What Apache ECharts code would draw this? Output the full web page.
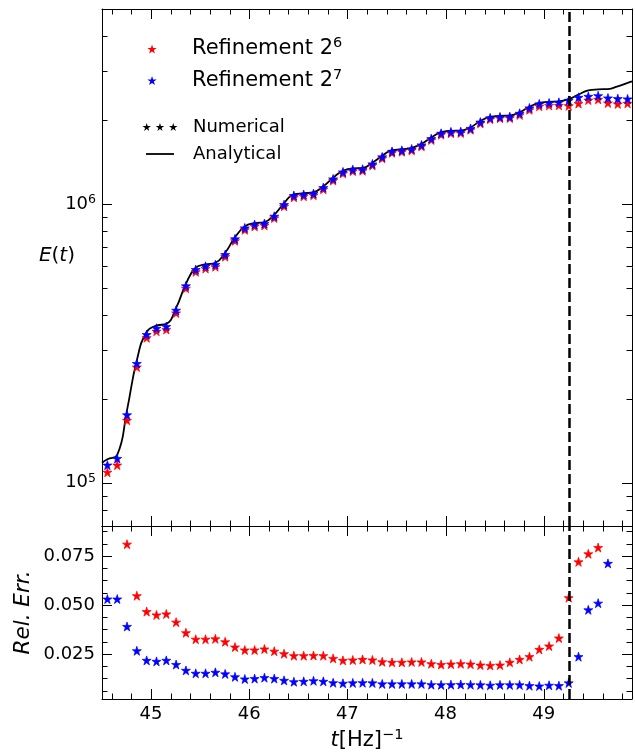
<!DOCTYPE html>
<html>
<head>
<meta charset="utf-8">
<script src="https://cdn.jsdelivr.net/npm/echarts@6/dist/echarts.min.js"></script>
<style>
html,body{margin:0;padding:0;background:#fff;}
#chart{width:635px;height:752px;}
</style>
</head>
<body>
<div id="chart"></div>
<script>
// ---------------- DATA ----------------
const tPts = [44.555,44.655,44.755,44.855,44.955,45.055,45.155,45.255,45.355,45.455,
  45.555,45.655,45.755,45.855,45.955,46.055,46.155,46.255,46.355,46.455,
  46.555,46.655,46.755,46.855,46.955,47.055,47.155,47.255,47.355,47.455,
  47.555,47.655,47.755,47.855,47.955,48.055,48.155,48.255,48.355,48.455,
  48.555,48.655,48.755,48.855,48.955,49.055,49.155,49.255,49.355,49.455,
  49.555,49.655,49.755,49.855];

// E(t), refinement 2^7 (blue)
const eRef7 = [1.157e5,1.222e5,1.752e5,2.677e5,3.400e5,3.583e5,3.634e5,4.155e5,5.083e5,5.814e5,
  5.974e5,6.058e5,6.58e5,7.49e5,8.20e5,8.43e5,8.50e5,9.03e5,9.94e5,1.071e6,
  1.080e6,1.089e6,1.144e6,1.229e6,1.302e6,1.327e6,1.332e6,1.391e6,1.474e6,1.543e6,
  1.556e6,1.574e6,1.627e6,1.714e6,1.791e6,1.812e6,1.816e6,1.865e6,1.965e6,2.034e6,
  2.050e6,2.056e6,2.113e6,2.209e6,2.283e6,2.301e6,2.313e6,2.351e6,2.410e6,2.430e6,
  2.444e6,2.398e6,2.385e6,2.379e6];

// E(t), refinement 2^6 (red)
const eRef6 = [1.091e5,1.157e5,1.675e5,2.600e5,3.313e5,3.497e5,3.546e5,4.063e5,4.984e5,5.711e5,
  5.869e5,5.953e5,6.471e5,7.375e5,8.077e5,8.306e5,8.374e5,8.902e5,9.804e5,1.0566e6,
  1.0657e6,1.0747e6,1.1288e6,1.2136e6,1.2867e6,1.3113e6,1.316e6,1.3745e6,1.4571e6,1.5258e6,
  1.5387e6,1.5562e6,1.6086e6,1.6955e6,1.7722e6,1.7928e6,1.7963e6,1.8452e6,1.9449e6,2.0133e6,
  2.0291e6,2.032e6,2.0853e6,2.176e6,2.2399e6,2.2546e6,2.2563e6,2.2476e6,2.2906e6,2.3571e6,
  2.3708e6,2.301e6,2.283e6,2.294e6];

// Analytical curve
const tLine = [44.5,44.555,44.655,44.755,44.855,44.955,45.055,45.155,45.255,45.355,45.455,
  45.555,45.655,45.755,45.855,45.955,46.055,46.155,46.255,46.355,46.455,
  46.555,46.655,46.755,46.855,46.955,47.055,47.155,47.255,47.355,47.455,
  47.555,47.655,47.755,47.855,47.955,48.055,48.155,48.255,48.355,48.455,
  48.555,48.655,48.755,48.855,48.955,49.055,49.155,49.255,49.355,49.455,
  49.555,49.655,49.755,49.855,49.9];
const eAnalytical = [1.18e5,1.215e5,1.26e5,1.823e5,2.750e5,3.475e5,3.661e5,3.715e5,4.238e5,5.169e5,5.903e5,
  6.066e5,6.154e5,6.679e5,7.591e5,8.301e5,8.536e5,8.611e5,9.143e5,1.0056e6,1.0827e6,
  1.092e6,1.1014e6,1.1567e6,1.2418e6,1.3152e6,1.3407e6,1.3459e6,1.4053e6,1.4884e6,1.5581e6,
  1.5712e6,1.5894e6,1.6429e6,1.7301e6,1.8076e6,1.829e6,1.833e6,1.8825e6,1.9832e6,2.0525e6,
  2.069e6,2.075e6,2.1326e6,2.2286e6,2.3028e6,2.3219e6,2.3335e6,2.3752e6,2.4683e6,2.5512e6,
  2.575e6,2.582e6,2.64e6,2.715e6,2.75e6];

// Relative errors (null = outside plotted range)
const errRef7 = [0.053,0.053,0.039,0.0266,0.0217,0.0212,0.0217,0.0196,0.0166,0.0151,
  0.0151,0.0156,0.0148,0.0133,0.0122,0.0124,0.0129,0.0124,0.0115,0.0108,
  0.0110,0.0113,0.0110,0.0103,0.0100,0.0102,0.0103,0.0102,0.0097,0.0097,
  0.0097,0.0097,0.0097,0.0093,0.0092,0.0093,0.0094,0.0093,0.0092,0.0090,
  0.0092,0.0092,0.0092,0.0088,0.0086,0.0090,0.0088,0.0102,0.0236,0.0475,
  0.0509,0.0712,null,null];
const errRef6 = [null,null,0.081,0.0547,0.0466,0.0449,0.0454,0.0412,0.0358,0.0325,
  0.0325,0.0327,0.0312,0.0285,0.0270,0.0270,0.0275,0.0264,0.0251,0.0241,
  0.0241,0.0242,0.0241,0.0227,0.0217,0.0219,0.0222,0.0219,0.0210,0.0207,
  0.0207,0.0209,0.0209,0.0200,0.0196,0.0198,0.0200,0.0198,0.0193,0.0191,
  0.0193,0.0207,0.0222,0.0236,0.0273,0.0290,0.0331,0.0537,0.0720,0.0761,
  0.0793,null,null,null];

const tDashed = 49.255;

// Tick values
const xMajorTicks = [45,46,47,48,49];
const xMinorTicks = [44.6,44.8,45.2,45.4,45.6,45.8,46.2,46.4,46.6,46.8,47.2,47.4,47.6,47.8,
  48.2,48.4,48.6,48.8,49.2,49.4,49.6,49.8];
const eMajorTicks = [1e5,1e6];
const eMinorTicks = [8e4,9e4,2e5,3e5,4e5,5e5,6e5,7e5,8e5,9e5,2e6,3e6,4e6];
const errMajorTicks = [0.025,0.05,0.075];
const errMinorTicks = [0.00625,0.0125,0.01875,0.03125,0.0375,0.04375,0.05625,0.0625,0.06875,0.08125,0.0875];

const nameRef6 = 'Refinement 2^6';
const nameRef7 = 'Refinement 2^7';

// ---------------- HELPERS ----------------
function starPts(cx, cy, R, r) {
  let s = '';
  for (let i = 0; i < 10; i++) {
    const a = -Math.PI / 2 + i * Math.PI / 5;
    const rad = (i % 2) ? r : R;
    s += (i ? 'L' : 'M') + (cx + rad * Math.cos(a)).toFixed(2) + ',' + (cy + rad * Math.sin(a)).toFixed(2);
  }
  return s + 'Z';
}
const STAR = 'path://' + starPts(0, 0, 10, 3.82);
const STARS3 = 'path://' + starPts(0, 0, 10, 3.82) + starPts(30, 0, 10, 3.82) + starPts(60, 0, 10, 3.82);

function zip(xs, ys) {
  const out = [];
  for (let i = 0; i < xs.length; i++) if (ys[i] !== null && ys[i] !== undefined) out.push([xs[i], ys[i]]);
  return out;
}

function tickData(xRef, yRef, xMaj, xMin, yMaj, yMin) {
  const d = [];
  xMaj.forEach(v => d.push([v, yRef, 0]));
  xMin.forEach(v => d.push([v, yRef, 1]));
  yMaj.forEach(v => d.push([xRef, v, 2]));
  yMin.forEach(v => d.push([xRef, v, 3]));
  return d;
}

const MAJ = 10, MIN = 5.5;
function tickRender(params, api) {
  const cs = params.coordSys;
  const kind = api.value(2);
  const p = api.coord([api.value(0), api.value(1)]);
  const len = (kind === 0 || kind === 2) ? MAJ : MIN;
  const st = { stroke: '#000', lineWidth: 1 };
  let l1, l2;
  if (kind < 2) {
    const x = Math.round(p[0]) + 0.5;
    l1 = { x1: x, y1: cs.y + cs.height, x2: x, y2: cs.y + cs.height - len };
    l2 = { x1: x, y1: cs.y, x2: x, y2: cs.y + len };
  } else {
    const y = Math.round(p[1]) + 0.5;
    l1 = { x1: cs.x, y1: y, x2: cs.x + len, y2: y };
    l2 = { x1: cs.x + cs.width, y1: y, x2: cs.x + cs.width - len, y2: y };
  }
  return { type: 'group', children: [
    { type: 'line', shape: l1, style: st },
    { type: 'line', shape: l2, style: st }
  ] };
}

const FONT = 'DejaVu Sans';
const RED = '#ff0000', BLUE = '#0000ff';
const axisLineStyle = { show: true, onZero: false, lineStyle: { color: '#000', width: 1 } };

function plainAxis(extra) {
  return Object.assign({
    axisLine: axisLineStyle,
    axisTick: { show: false },
    axisLabel: { show: false },
    splitLine: { show: false },
    minorTick: { show: false },
    minorSplitLine: { show: false }
  }, extra);
}

const dashedMark = {
  silent: true,
  symbol: ['none', 'none'],
  label: { show: false },
  lineStyle: { color: '#000', width: 2.5, type: [10, 4] },
  data: [{ xAxis: tDashed }]
};

function starStyle(c) {
  return { color: c, opacity: 1, borderColor: c, borderWidth: 0.7, borderJoin: 'miter' };
}

const chart = echarts.init(document.getElementById('chart'), null, { renderer: 'canvas' });

const option = {
  animation: false,
  backgroundColor: '#fff',
  textStyle: { fontFamily: FONT, color: '#000' },
  grid: [
    { left: 102, right: 3, top: 9, height: 517, containLabel: false, outerBoundsMode: 'none' },
    { left: 102, right: 3, top: 526, height: 173, containLabel: false, outerBoundsMode: 'none' }
  ],
  xAxis: [
    plainAxis({ gridIndex: 0, type: 'value', min: 44.5, max: 49.9, position: 'bottom' }),
    plainAxis({ gridIndex: 0, type: 'value', min: 44.5, max: 49.9, position: 'top' }),
    plainAxis({
      gridIndex: 1, type: 'value', min: 44.5, max: 49.9, position: 'bottom',
      minInterval: 1, maxInterval: 1,
      axisLabel: {
        show: true, margin: 6, fontSize: 18, color: '#000', fontFamily: FONT,
        showMinLabel: false, showMaxLabel: false,
        formatter: v => (Math.abs(v - Math.round(v)) < 1e-9 ? String(Math.round(v)) : '')
      },
      name: '{i|t}{n|[Hz]}{s|\u22121}',
      nameLocation: 'middle', nameGap: 29, nameMoveOverlap: false,
      nameTextStyle: { fontSize: 21, color: '#000', fontFamily: FONT,
        rich: {
          i: { fontStyle: 'italic', fontSize: 21, lineHeight: 25, fontFamily: FONT },
          n: { fontSize: 21, lineHeight: 25, fontFamily: FONT },
          s: { fontSize: 14.5, lineHeight: 15, verticalAlign: 'top', fontFamily: FONT }
        } }
    }),
    plainAxis({ gridIndex: 1, type: 'value', min: 44.5, max: 49.9, position: 'top' })
  ],
  yAxis: [
    plainAxis({
      gridIndex: 0, type: 'log', logBase: 10, min: 7e4, max: 5e6, position: 'left',
      axisLabel: {
        show: true, margin: 6, color: '#000', fontFamily: FONT,
        showMinLabel: false, showMaxLabel: false,
        formatter: v => {
          const l = Math.log10(v);
          const r = Math.round(l);
          return Math.abs(l - r) < 1e-6 ? '{b|10}{s|' + r + '}' : '';
        },
        rich: {
          b: { fontSize: 18, lineHeight: 22, fontFamily: FONT },
          s: { fontSize: 12.5, lineHeight: 12, verticalAlign: 'top', fontFamily: FONT }
        }
      },
      name: '{i|E}{n|(}{i|t}{n|)}',
      nameLocation: 'middle', nameRotate: 0, nameGap: 27, nameMoveOverlap: false,
      nameTextStyle: { fontSize: 20, color: '#000', fontFamily: FONT, padding: [0, 0, 23, 0],
        rich: {
          i: { fontStyle: 'italic', fontSize: 20, fontFamily: FONT },
          n: { fontSize: 20, fontFamily: FONT }
        } }
    }),
    plainAxis({ gridIndex: 0, type: 'log', logBase: 10, min: 7e4, max: 5e6, position: 'right' }),
    plainAxis({
      gridIndex: 1, type: 'value', min: 0.002, max: 0.0903, position: 'left',
      minInterval: 0.025, maxInterval: 0.025,
      axisLabel: {
        show: true, margin: 7, fontSize: 18, color: '#000', fontFamily: FONT,
        showMinLabel: false, showMaxLabel: false,
        formatter: v => {
          const r = Math.round(v / 0.025);
          return (r > 0 && Math.abs(v - r * 0.025) < 1e-9) ? v.toFixed(3) : '';
        }
      },
      name: 'Rel. Err.',
      nameLocation: 'middle', nameGap: 68, nameMoveOverlap: false,
      nameTextStyle: { fontSize: 21.5, fontStyle: 'italic', color: '#000', fontFamily: FONT }
    }),
    plainAxis({ gridIndex: 1, type: 'value', min: 0.002, max: 0.0903, position: 'right' })
  ],
  legend: [
    {
      data: [{ name: nameRef6, icon: STAR }, { name: nameRef7, icon: STAR }],
      orient: 'vertical', left: 147.3, top: 36, padding: 0,
      itemWidth: 70, itemHeight: 9, itemGap: 8, selectedMode: false,
      itemStyle: { borderWidth: 0 },
      formatter: n => '{t|' + n.split('^')[0] + '}{s|' + n.split('^')[1] + '}',
      textStyle: { fontFamily: FONT, fontSize: 21, color: '#000',
        rich: {
          t: { fontSize: 21, lineHeight: 26, fontFamily: FONT, color: '#000' },
          s: { fontSize: 14.5, lineHeight: 17, verticalAlign: 'top', fontFamily: FONT, color: '#000' }
        } }
    },
    {
      data: [{ name: 'Numerical', icon: STARS3 }],
      orient: 'vertical', left: 142.5, top: 117, padding: 0,
      itemWidth: 56, itemHeight: 8, selectedMode: false,
      itemStyle: { borderWidth: 0 },
      textStyle: { fontFamily: FONT, fontSize: 18, color: '#000', lineHeight: 20 }
    },
    {
      data: [{ name: 'Analytical', icon: 'path://M0,0L28,0L28,1.8L0,1.8Z' }],
      orient: 'vertical', left: 146, top: 144, padding: 0,
      itemWidth: 56, itemHeight: 1.8, selectedMode: false,
      itemStyle: { borderWidth: 0 },
      textStyle: { fontFamily: FONT, fontSize: 18, color: '#000', lineHeight: 20 }
    }
  ],
  series: [
    {
      name: 'Analytical', type: 'line', xAxisIndex: 0, yAxisIndex: 0,
      data: zip(tLine, eAnalytical),
      smooth: 0.5, symbol: 'none', showSymbol: false,
      lineStyle: { color: '#000', width: 1.8 }, itemStyle: { color: '#000' },
      z: 2, silent: true,
      markLine: dashedMark
    },
    {
      name: nameRef6, type: 'scatter', xAxisIndex: 0, yAxisIndex: 0,
      data: zip(tPts, eRef6), symbol: STAR, symbolSize: 9,
      itemStyle: starStyle(RED), z: 3, silent: true
    },
    {
      name: nameRef7, type: 'scatter', xAxisIndex: 0, yAxisIndex: 0,
      data: zip(tPts, eRef7), symbol: STAR, symbolSize: 9,
      itemStyle: starStyle(BLUE), z: 4, silent: true
    },
    {
      name: nameRef6, type: 'scatter', xAxisIndex: 2, yAxisIndex: 2,
      data: zip(tPts, errRef6), symbol: STAR, symbolSize: 9,
      itemStyle: starStyle(RED), z: 3, silent: true,
      markLine: dashedMark
    },
    {
      name: nameRef7, type: 'scatter', xAxisIndex: 2, yAxisIndex: 2,
      data: zip(tPts, errRef7), symbol: STAR, symbolSize: 9,
      itemStyle: starStyle(BLUE), z: 4, silent: true
    },
    {
      name: 'Numerical', type: 'scatter', xAxisIndex: 0, yAxisIndex: 0,
      data: [], symbol: STAR, itemStyle: starStyle('#000'), silent: true
    },
    {
      type: 'custom', xAxisIndex: 0, yAxisIndex: 0, silent: true, clip: false, z: 10,
      renderItem: tickRender,
      data: tickData(47, 1e6, xMajorTicks, xMinorTicks, eMajorTicks, eMinorTicks)
    },
    {
      type: 'custom', xAxisIndex: 2, yAxisIndex: 2, silent: true, clip: false, z: 10,
      renderItem: tickRender,
      data: tickData(47, 0.05, xMajorTicks, xMinorTicks, errMajorTicks, errMinorTicks)
    }
  ]
};
chart.setOption(option);
</script>
</body>
</html>
